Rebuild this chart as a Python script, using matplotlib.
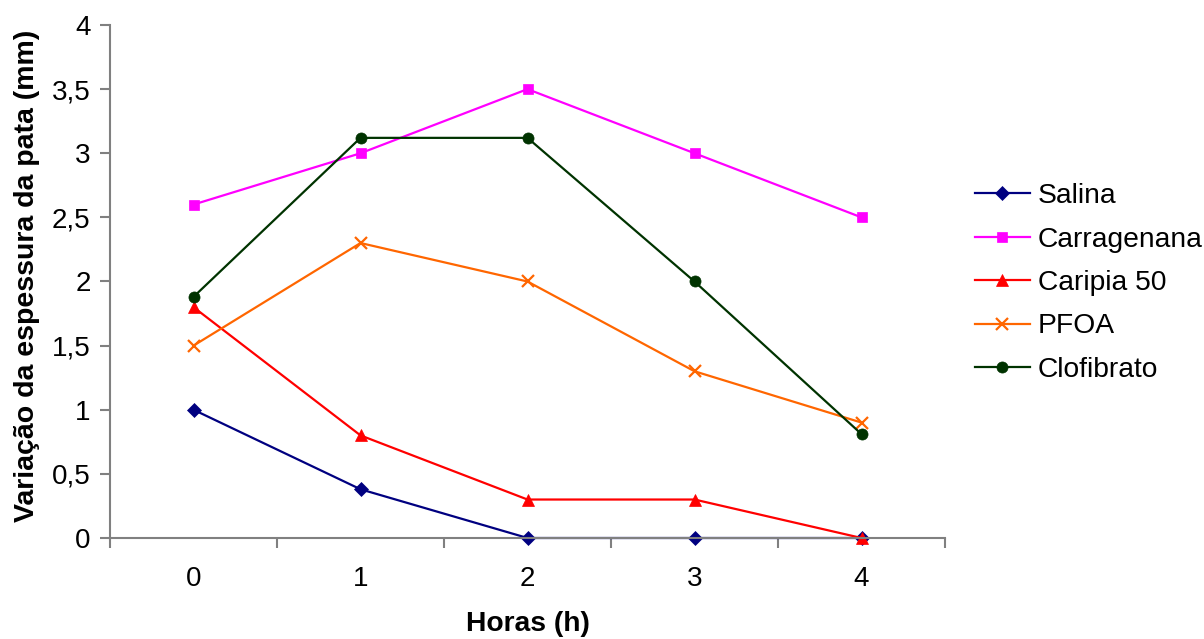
import matplotlib
matplotlib.use("Agg")
import matplotlib.pyplot as plt

# Paw thickness variation (mm) over time for each treatment group
horas = [0, 1, 2, 3, 4]
salina = [1.0, 0.38, 0.0, 0.0, 0.0]
carragenana = [2.6, 3.0, 3.5, 3.0, 2.5]
caripia_50 = [1.8, 0.8, 0.3, 0.3, 0.0]
pfoa = [1.5, 2.3, 2.0, 1.3, 0.9]
clofibrato = [1.88, 3.12, 3.12, 2.0, 0.81]

y_ticks = [0, 0.5, 1, 1.5, 2, 2.5, 3, 3.5, 4]
y_tick_labels = ["0", "0,5", "1", "1,5", "2", "2,5", "3", "3,5", "4"]

plt.rcParams["font.family"] = ["Liberation Sans", "DejaVu Sans"]

fig = plt.figure(figsize=(12.04, 6.39), dpi=100)
ax = fig.add_axes([110 / 1204, 101 / 639, 835 / 1204, 513 / 639])

series = [
    ("Salina", salina, "#000080", "D", 7),
    ("Carragenana", carragenana, "#FF00FF", "s", 7.5),
    ("Caripia 50", caripia_50, "#FF0000", "^", 9),
    ("PFOA", pfoa, "#FF6600", "x", 9),
    ("Clofibrato", clofibrato, "#003300", "o", 8),
]

for name, vals, color, marker, ms in series:
    kw = dict(markeredgewidth=1.6) if marker == "x" else dict(markeredgewidth=0.5)
    ax.plot(horas, vals, color=color, marker=marker, markersize=ms,
            linewidth=1.6, label=name, markerfacecolor=color,
            markeredgecolor=color, clip_on=False, **kw)

axis_gray = "#808080"
ax.set_xlim(-0.5, 4.5)
ax.set_ylim(0, 4)
ax.set_yticks(y_ticks)
ax.set_yticklabels(y_tick_labels)
ax.set_xticks(horas)
ax.set_xticks([x + 0.5 for x in [-1] + horas], minor=True)

for side in ("top", "right"):
    ax.spines[side].set_visible(False)
for side in ("left", "bottom"):
    ax.spines[side].set_color(axis_gray)
    ax.spines[side].set_linewidth(1.5)

ax.tick_params(axis="y", direction="out", length=7, width=1.5, color=axis_gray,
               labelsize=20, pad=7)
ax.tick_params(axis="x", which="major", length=0, labelsize=20, pad=20)
ax.tick_params(axis="x", which="minor", direction="out", length=7, width=1.5,
               color=axis_gray)

ax.set_xlabel("Horas (h)", fontsize=20.3, fontweight="bold", labelpad=14)
ax.set_ylabel("Variação da espessura da pata (mm)", fontsize=20.5,
              fontweight="bold")
ax.yaxis.set_label_coords(-0.084, 0.51)

fig.legend(loc="center left", bbox_to_anchor=(975 / 1204, 1 - 283 / 639),
           frameon=False, fontsize=20.3, handlelength=1.95, handletextpad=0.28,
           labelspacing=0.62, borderpad=0, borderaxespad=0)

fig.savefig("out.png", dpi=100, facecolor="white")
